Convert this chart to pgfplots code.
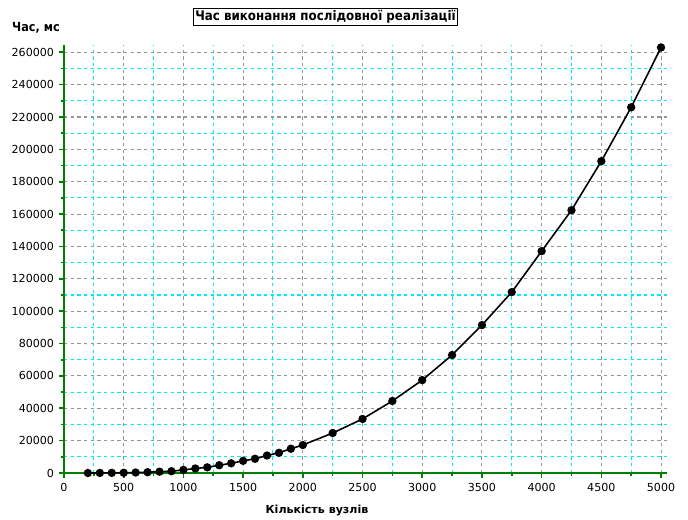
\documentclass[border=0pt]{standalone}
\usepackage{pgfplots}
\pgfplotsset{compat=1.18}
\usepackage{fontspec}
\setmainfont{DejaVu Sans}
\newfontfamily\condbold{DejaVu Sans Condensed Bold}
\definecolor{axgreen}{RGB}{0,128,0}
\definecolor{gridgray}{RGB}{150,150,150}
\definecolor{gridcyan}{RGB}{0,235,245}
\begin{document}
\begin{tikzpicture}[x=1pt,y=1pt]
\path[use as bounding box] (-48,-34.5) rectangle (468,354.75);
\begin{axis}[
  at={(0,0)}, anchor=south west,
  scale only axis, width=452.25pt, height=321pt,
  xmin=0, xmax=5050, ymin=0, ymax=264500,
  axis x line*=bottom, axis y line*=left,
  axis line style={-, axgreen, line width=1.5pt},
  xtick={0,500,...,5000},
  minor xtick={250,750,...,4750},
  ytick={0,20000,...,260000},
  minor ytick={10000,30000,...,250000},
  tick align=outside,
  major tick length=3.5pt, minor tick length=2pt,
  every tick/.style={axgreen, line width=1.2pt},
  xmajorgrids, xminorgrids, ymajorgrids, yminorgrids,
  major grid style={gridgray, line width=0.8pt, dash pattern=on 2.5pt off 2.5pt},
  minor grid style={gridcyan, line width=0.8pt, dash pattern=on 2.5pt off 2.5pt},
  scaled y ticks=false, scaled x ticks=false,
  xticklabel={\pgfmathtruncatemacro\tk{\tick}\tk},
  yticklabel={\pgfmathtruncatemacro\tk{\tick}\tk},
  tick label style={font=\fontsize{8.3}{10}\selectfont, text=black},
  yticklabel style={xshift=-0.5pt},
  xticklabel style={yshift=-1pt},
  clip=false,
]
\addplot[black, line width=1.2pt, mark=*, mark size=2.5pt, mark options={fill=black}] coordinates {
(200,0) (300,50) (400,100) (500,150) (600,300) (700,500) (800,800) (900,1100)
(1000,1900) (1100,2800) (1200,3500) (1300,4800) (1400,6000) (1500,7500)
(1600,8800) (1700,10800) (1800,12500) (1900,15000) (2000,17300)
(2250,24700) (2500,33400) (2750,44500) (3000,57400) (3250,72900)
(3500,91400) (3750,111800) (4000,137100) (4250,162400) (4500,192700)
(4750,226000) (5000,263000)
};
\end{axis}
\node[draw=black, line width=0.8pt, fill=white, inner xsep=1.5pt, inner ysep=1.5pt, font=\condbold\fontsize{9.9}{11}\selectfont] at (196.1,342) {Час виконання послідовної реалізації};
\node[font=\condbold\fontsize{9.4}{11}\selectfont] at (-21,333.75) {Час, мс};
\node[font=\bfseries\fontsize{8.3}{10}\selectfont] at (189.75,-28.1) {Кількість вузлів};
\end{tikzpicture}
\end{document}
